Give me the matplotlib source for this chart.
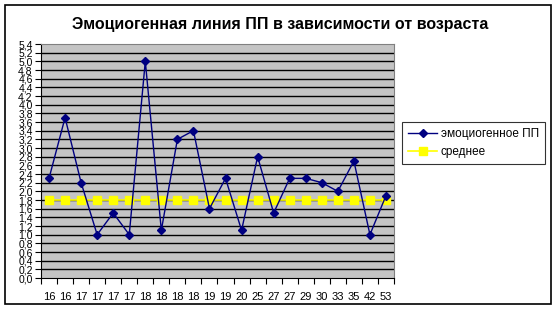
import matplotlib
matplotlib.use("Agg")
import matplotlib.pyplot as plt
import numpy as np
from matplotlib.patches import Rectangle

ages = ["16", "16", "17", "17", "17", "17", "18", "18", "18", "18", "19",
        "19", "20", "25", "27", "27", "29", "30", "33", "35", "42", "53"]
emotio = [2.3, 3.7, 2.2, 1.0, 1.5, 1.0, 5.0, 1.1, 3.2, 3.4, 1.6,
          2.3, 1.1, 2.8, 1.5, 2.3, 2.3, 2.2, 2.0, 2.7, 1.0, 1.9]
mean_vals = [1.8] * len(ages)
y_ticks = [round(0.2 * i, 1) for i in range(28)]

plt.rcParams['font.family'] = ['Liberation Sans', 'DejaVu Sans']

W, H = 560, 311
fig = plt.figure(figsize=(W / 100, H / 100), dpi=100)
fig.patch.set_facecolor('white')

# outer border
fig.patches.append(Rectangle((5 / W, 1 - 304 / H), (551 - 5) / W, (304 - 5) / H,
                             transform=fig.transFigure, fill=False,
                             edgecolor='black', linewidth=1.2))

left, right, top, bottom = 41, 394, 44, 278
ax = fig.add_axes([left / W, 1 - bottom / H, (right - left) / W, (bottom - top) / H])
ax.set_facecolor('#c4c4c4')

x = np.arange(len(ages))
ax.set_xlim(-0.5, len(ages) - 0.5)
ax.set_ylim(0, 5.4)

for v in y_ticks[1:-1]:
    ax.axhline(v, color='black', linewidth=1.0, zorder=1)

ax.plot(x, mean_vals, color='#ffff00', linewidth=1.2, marker='s',
        markersize=5.5, markerfacecolor='#ffff00', markeredgecolor='#ffff00',
        label='среднее', zorder=3)
ax.plot(x, emotio, color='#000080', linewidth=1.0, marker='D',
        markersize=4.5, markerfacecolor='#000080', markeredgecolor='#000080',
        label='эмоциогенное ПП', zorder=4)

ax.set_yticks(y_ticks)
ax.set_yticklabels([f"{v:.1f}".replace('.', ',') for v in y_ticks], fontsize=7.5)
ax.set_xticks(np.arange(-0.5, len(ages), 1.0))
ax.set_xticklabels([])
ax.set_xticks(x, minor=True)
ax.set_xticklabels(ages, minor=True, fontsize=8)
ax.tick_params(axis='x', which='minor', length=0, pad=10)
ax.tick_params(axis='x', which='major', length=4, direction='out', width=0.8)
ax.tick_params(axis='y', length=4, width=0.8, pad=2)

for s in ['top', 'right']:
    ax.spines[s].set_color('#808080')
    ax.spines[s].set_linewidth(0.8)
ax.spines['left'].set_linewidth(0.8)
ax.spines['bottom'].set_linewidth(0.8)

fig.text(280 / W, 1 - 25 / H, 'Эмоциогенная линия ПП в зависимости от возраста',
         ha='center', va='center', fontsize=11.5, fontweight='bold')

handles, labels = ax.get_legend_handles_labels()
leg = fig.legend([handles[1], handles[0]], [labels[1], labels[0]],
                 loc='upper left', bbox_to_anchor=(402 / W, 1 - 122 / H),
                 fontsize=8.5, frameon=True, fancybox=False, borderpad=0.5,
                 handlelength=2.5, labelspacing=0.55, handletextpad=0.3,
                 borderaxespad=0)
leg.get_frame().set_edgecolor('black')
leg.get_frame().set_linewidth(0.8)

fig.savefig('out.png', dpi=100)
